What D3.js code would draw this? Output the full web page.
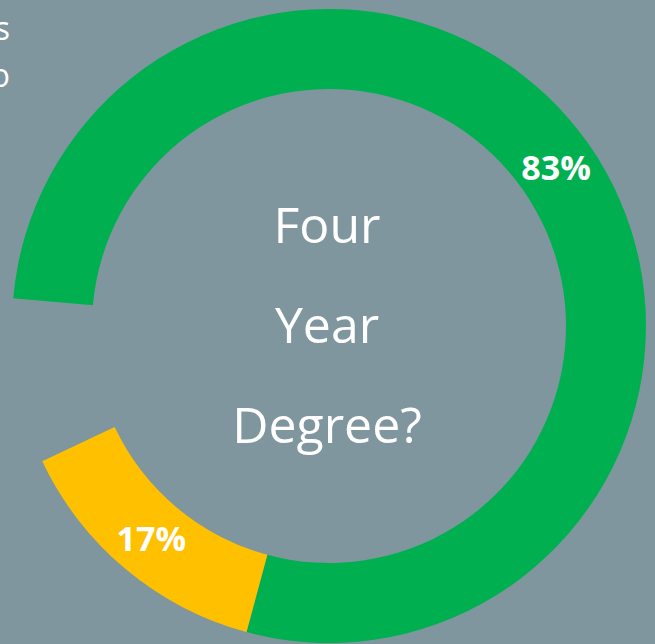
<!DOCTYPE html>
<html>
  <head>
    <title>Four Year Degree?</title>
    <style>
      body { margin: 0; background: #7f969f; }
      svg { display: block; }
    </style>
  </head>
  <body>
    <svg class="chart"></svg>
    <script src="https://d3js.org/d3.v7.min.js"></script>
    <script>

// slice shares of the full ring (last one is the blank gap)
var categories = ["Yes", "No", "gap"]
var shares = [77.8, 13.8, 8.4]
var labels = ["83%", "17%", ""]
var colors = ["#00b050", "#ffc000", "none"]
var centerLines = ["Four", "Year", "Degree?"]
var edgeLines = ["s", "o"]

var width = 655
var height = 644
var cx = 329, cy = 326
var outer = 317, inner = 237
var start = 275 * Math.PI / 180

var svg = d3.select(".chart")
    .attr("width", width)
    .attr("height", height)

svg.append("rect")
    .attr("width", width)
    .attr("height", height)
    .attr("fill", "#7f969f")

var pie = d3.pie()
    .sort(null)
    .startAngle(start)
    .endAngle(start + 2 * Math.PI)

var arc = d3.arc()
    .innerRadius(inner)
    .outerRadius(outer)

var slices = pie(shares)

var g = svg.append("g")
    .attr("transform", "translate(" + cx + "," + cy + ")")

g.selectAll("path")
    .data(slices)
    .enter().append("path")
    .attr("d", arc)
    .attr("fill", function(d, i) { return colors[i]; })

g.selectAll("text.pct")
    .data(slices)
    .enter().append("text")
    .attr("class", "pct")
    .attr("transform", function(d) { return "translate(" + arc.centroid(d) + ")"; })
    .attr("text-anchor", "middle")
    .attr("dy", "0.36em")
    .style("font-family", "'Open Sans', sans-serif")
    .style("font-weight", "bold")
    .style("font-size", "34px")
    .style("fill", "#fff")
    .text(function(d, i) { return labels[i]; })

// centre title, one word per line
var lineGap = 100
g.selectAll("text.title")
    .data(centerLines)
    .enter().append("text")
    .attr("class", "title")
    .attr("x", -2)
    .attr("y", function(d, i) { return -83 + i * lineGap; })
    .attr("text-anchor", "middle")
    .style("font-family", "'Open Sans', sans-serif")
    .style("font-size", "50px")
    .style("fill", "#fff")
    .text(function(d) { return d; })

// text cut off at the left edge
svg.selectAll("text.edge")
    .data(edgeLines)
    .enter().append("text")
    .attr("class", "edge")
    .attr("x", 10)
    .attr("y", function(d, i) { return 40 + i * 47; })
    .attr("text-anchor", "end")
    .style("font-family", "'Open Sans', sans-serif")
    .style("font-size", "32px")
    .style("fill", "#fff")
    .text(function(d) { return d; })

    </script>
  </body>
</html>
